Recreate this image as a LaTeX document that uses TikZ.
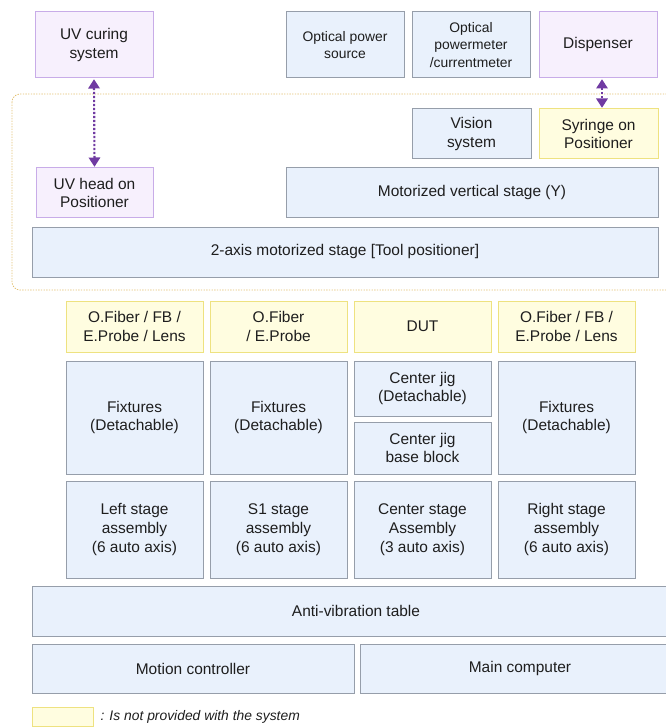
\documentclass[tikz,border=0pt]{standalone}
\usepackage{fontspec}
\setmainfont{Liberation Sans}
\usetikzlibrary{arrows.meta}

\definecolor{boxblue}{RGB}{233,241,252}
\definecolor{lineblue}{RGB}{150,158,170}
\definecolor{boxpurple}{RGB}{247,240,253}
\definecolor{linepurple}{RGB}{200,172,232}
\definecolor{boxyellow}{RGB}{255,253,224}
\definecolor{lineyellow}{RGB}{238,226,128}
\definecolor{arrowpurple}{RGB}{112,58,162}
\definecolor{zonegold}{RGB}{226,192,112}
\definecolor{txtgrey}{RGB}{30,30,30}

\tikzset{
	every picture/.style={line width=0.75pt},
	unit/.style={draw=lineblue, fill=boxblue, text=txtgrey, align=center, inner sep=2pt,
		font=\fontsize{11.6}{14.2}\selectfont},
	unitsmall/.style={unit, font=\fontsize{10.4}{12.8}\selectfont},
	purpleunit/.style={unit, draw=linepurple, fill=boxpurple},
	extunit/.style={unit, draw=lineyellow, fill=boxyellow},
	size/.style 2 args={minimum width=#1*0.75pt, minimum height=#2*0.75pt},
	toollink/.style={draw=arrowpurple, line width=1.6pt, dash pattern=on 1.6pt off 1.4pt,
		{Triangle[length=7pt,width=8.5pt]}-{Triangle[length=7pt,width=8.5pt]}, shorten <=0.5pt, shorten >=0.5pt},
	zone/.style={draw=zonegold, dash pattern=on 1pt off 1pt, line width=0.6pt, rounded corners=6pt}
}

\begin{document}
\begin{tikzpicture}[x=0.75pt,y=0.75pt,yscale=-1,xscale=1]
	\useasboundingbox (0,0) rectangle (665,727);

	%Tool positioner zone
	\draw [zone] (12,94) rectangle (690,290);

	%Top row
	\node [purpleunit, size={118}{66}] (uvcure) at (94,45) {UV curing\\system};
	\node [unitsmall, size={118}{66}] (optsrc) at (345,45) {Optical power\\source};
	\node [unitsmall, size={118}{66}] (optmeter) at (471,45) {Optical\\powermeter\\/currentmeter};
	\node [purpleunit, size={118}{66}] (dispenser) at (598,45) {Dispenser};

	%Tool positioner
	\node [unit, size={119}{50}] (vision) at (471.5,134) {Vision\\system};
	\node [extunit, size={119}{50}] (syringe) at (598.5,134) {Syringe on\\Positioner};
	\node [purpleunit, size={117}{50}] (uvhead) at (94.5,193) {UV head on\\Positioner};
	\node [unit, size={372}{50}] (vstage) at (472,193) {Motorized vertical stage (Y)};
	\node [unit, size={626}{50}] (xzstage) at (345,252) {2-axis motorized stage [Tool positioner]};

	%Links
	\draw [toollink] (uvcure.south) -- (uvhead.north);
	\draw [toollink] (dispenser.south -| 602,0) -- (syringe.north -| 602,0);

	%Parts on the stages
	\node [extunit, size={137}{51}] (leftpart) at (134.5,326.5) {O.Fiber / FB /\\E.Probe / Lens};
	\node [extunit, size={137}{51}] (s1part) at (278.5,326.5) {O.Fiber\\/ E.Probe};
	\node [extunit, size={137}{51}] (dut) at (422.5,326.5) {DUT};
	\node [extunit, size={137}{51}] (rightpart) at (566.5,326.5) {O.Fiber / FB /\\E.Probe / Lens};

	%Fixtures
	\node [unit, size={137}{113}] (leftfix) at (134.5,417.5) {Fixtures\\(Detachable)};
	\node [unit, size={137}{113}] (s1fix) at (278.5,417.5) {Fixtures\\(Detachable)};
	\node [unit, size={137}{55}] (cjig) at (422.5,388.5) {Center jig\\(Detachable)};
	\node [unit, size={137}{52}] (cjigbase) at (422.5,448) {Center jig\\base block};
	\node [unit, size={137}{113}] (rightfix) at (566.5,417.5) {Fixtures\\(Detachable)};

	%Stage assemblies
	\node [unit, size={137}{97}] (leftstage) at (134.5,529.5) {Left stage\\assembly\\(6 auto axis)};
	\node [unit, size={137}{97}] (s1stage) at (278.5,529.5) {S1 stage\\assembly\\(6 auto axis)};
	\node [unit, size={137}{97}] (cstage) at (422.5,529.5) {Center stage\\Assembly\\(3 auto axis)};
	\node [unit, size={137}{97}] (rightstage) at (566.5,529.5) {Right stage\\assembly\\(6 auto axis)};

	%Base
	\node [unit, size={648}{50}] (table) at (356,611) {Anti-vibration table};
	\node [unit, size={322}{49}] (motion) at (193,668.5) {Motion controller};
	\node [unit, size={320}{49}] (computer) at (520,668.5) {Main computer};

	%Legend
	\node [extunit, size={61}{19}] (legendkey) at (62.5,716.5) {};
	\node [anchor=west, text=txtgrey, inner sep=0pt, font=\fontsize{10.4}{12}\selectfont\itshape] (legendtxt) at (100,716.5) {: Is not provided with the system};

\end{tikzpicture}
\end{document}
